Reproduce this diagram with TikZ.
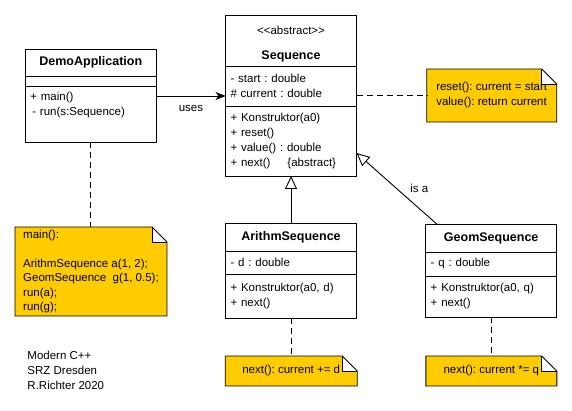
\documentclass[tikz,border=0pt]{standalone}
\usepackage{fontspec}
\setmainfont{Liberation Sans}
\usepackage{xcolor}
\usetikzlibrary{arrows.meta, positioning}
\definecolor{notecol}{RGB}{255,204,0}
\newcommand{\foldnote}[1]{%
  \fill[white] ([xshift=-15pt]#1.north east) rectangle ([yshift=-15pt]#1.north east);
  \draw (#1.south west) -- (#1.south east) -- ([yshift=-15pt]#1.north east)
        -- ([xshift=-15pt]#1.north east) -- (#1.north west) -- cycle;
  \draw ([xshift=-15pt]#1.north east) |- ([yshift=-15pt]#1.north east);
}

\begin{document}
\frenchspacing
\begin{tikzpicture}[
    x=1pt, y=-1pt,
    line width=0.9pt,
    head/.style={draw, rectangle, minimum width=131pt, inner sep=0pt, outer sep=0pt, align=center, font=\fontsize{12.5}{15}\selectfont\bfseries},
    part/.style={draw, rectangle, minimum width=131pt, text width=121pt, inner xsep=5pt, inner ysep=0pt, outer sep=0pt, align=left},
    note/.style={fill=notecol, inner ysep=0pt, inner xsep=6pt, outer sep=0pt},
    dashline/.style={dash pattern=on 6pt off 4pt},
    uses/.style={-{Stealth[length=10pt, width=8pt, inset=3pt]}},
    isa/.style={-{Triangle[open, length=13pt, width=12pt]}},
    every node/.append style={font=\fontsize{11.5}{15}\selectfont}
]
    \useasboundingbox (0,0) rectangle (572,411);

    \node[head, minimum height=27pt] (demohead) at (90.8,62.5) {DemoApplication};
    \node[part, minimum height=10pt, below=0pt of demohead] (demoattr) {};
    \node[part, minimum height=56pt, below=0pt of demoattr] (demometh) {+ main()\\\hspace{2pt}- run(s:Sequence)\\[5.5pt]\mbox{}};

    \node[head, minimum height=51pt] (seqhead) at (291,40.5) {\mbox{}\\[1pt]{\mdseries\fontsize{11.5}{15}\selectfont <{}<abstract>{}>}\\[10pt]Sequence};
    \node[part, minimum height=40pt, below=0pt of seqhead] (seqattr) {- start : double\\\# current : double};
    \node[part, minimum height=70pt, below=0pt of seqattr] (seqmeth) {+ Konstruktor(a0)\\+ reset()\\+ value() : double\\\makebox[57pt][l]{+ next()}\{abstract\}};

    \node[head, minimum height=28pt] (arithhead) at (291,237) {ArithmSequence};
    \node[part, minimum height=23pt, below=0pt of arithhead] (arithattr) {- d : double};
    \node[part, minimum height=44pt, below=0pt of arithattr] (arithmeth) {+ Konstruktor(a0, d)\\+ next()};

    \node[head, minimum height=28pt] (geomhead) at (491.2,238) {GeomSequence};
    \node[part, minimum height=24pt, below=0pt of geomhead] (geomattr) {- q : double};
    \node[part, minimum height=41pt, below=0pt of geomattr] (geommeth) {+ Konstruktor(a0, q)\\+ next()};

    \node[note, minimum width=130pt, minimum height=53pt, align=left] (seqnote) at (491.7,95.5) {reset(): current = start\\value(): return current};
    \foldnote{seqnote}
    \node[note, minimum width=152pt, minimum height=89pt, align=left, font=\fontsize{11.5}{14.5}\selectfont] (demonote) at (91,271.5)
        {main():\\\mbox{}\\ArithmSequence a(1, 2);\\GeomSequence\ \ g(1, 0.5);\\run(a);\\run(g);};
    \foldnote{demonote}
    \node[note, minimum width=132pt, minimum height=30pt] (arithnote) at (291.2,371) {next(): current += d};
    \foldnote{arithnote}
    \node[note, minimum width=131pt, minimum height=30pt] (geomnote) at (491.3,371) {next(): current *= q};
    \foldnote{geomnote}

    \node[align=left, anchor=north west, inner sep=0pt] (credits) at (27,351) {Modern C++\\SRZ Dresden\\R.Richter 2020};

    \coordinate (usesfrom) at ([yshift=-10pt]demometh.north east);
    \draw[uses] (usesfrom) -- (usesfrom -| seqattr.west) node[midway, below=6pt] {uses};
    \draw[dashline] (seqnote.west -| seqattr.east) -- (seqnote.west);
    \draw[dashline] (demometh.south) -- (demometh.south |- demonote.north);
    \draw[isa] (arithhead.north) -- (seqmeth.south);
    \draw[isa] ([xshift=11pt]geomhead.north west) -- ([yshift=-12pt]seqmeth.east) node[midway, right=10pt] {is a};
    \draw[dashline] (arithmeth.south) -- (arithmeth.south |- arithnote.north);
    \draw[dashline] (geommeth.south) -- (geommeth.south |- geomnote.north);
\end{tikzpicture}
\end{document}
